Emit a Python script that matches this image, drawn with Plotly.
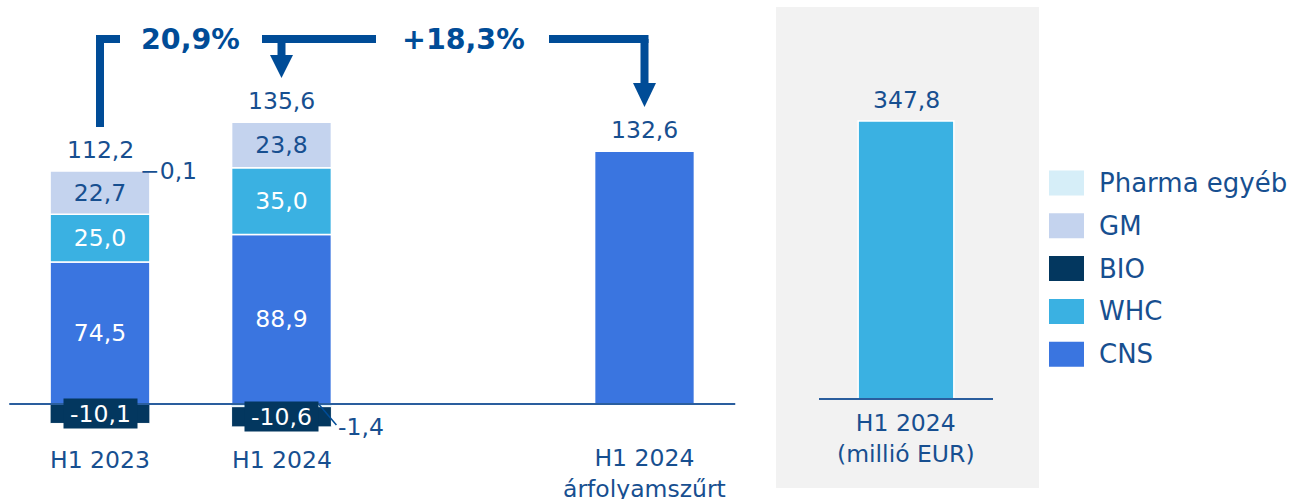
import plotly.graph_objects as go

# ---- data -------------------------------------------------------------
periods = ["H1 2023", "H1 2024"]
cns = [74.5, 88.9]
whc = [25.0, 35.0]
gm = [22.7, 23.8]
bio = [-10.1, -10.6]
pharma_other = [-0.1, -1.4]
totals = [112.2, 135.6]

adjusted_label = "H1 2024<br>árfolyamszűrt"
adjusted_total = 132.6

eur_label = "H1 2024<br>(millió EUR)"
eur_total = 347.8

growth_labels = ["20,9%", "+18,3%"]

series_names = ["Pharma egyéb", "GM", "BIO", "WHC", "CNS"]

# ---- style ------------------------------------------------------------
W, H = 1292, 499
FONT = "DejaVu Sans"
TXT = "#174f90"
ARROW = "#004c97"
AXIS = "#2a5e9e"
COLORS = {
    "Pharma egyéb": "#d6eef8",
    "GM": "#c4d3ee",
    "BIO": "#03375f",
    "WHC": "#3ab1e2",
    "CNS": "#3a75e0",
}
FS = 23.5

pos = [0, 1, 3]          # bar slots on the left axis
BAR_W = 0.55
UNIT_PX = 181.5          # pixels per slot on the left axis
Y_PX = 1.907             # pixels per million on the left axis
Y2_PX = 0.7993           # pixels per million on the right axis
ZERO_PX, ZERO2_PX = 404, 399
X1_DOM = [(100 - UNIT_PX / 2) / W, (644.5 + UNIT_PX / 2) / W]
X2_DOM = [819 / W, 993 / W]


def fmt(v):
    return f"{v:.1f}".replace(".", ",")


def px(p):
    return p / W


def py(p):
    return 1 - p / H


def dx(p):
    return p / UNIT_PX


fig = go.Figure()

# stacked segments (relative mode stacks negatives in trace order)
seg = [("CNS", cns, "white"), ("WHC", whc, "white"), ("GM", gm, TXT)]
for name, vals, tc in seg:
    fig.add_trace(go.Bar(
        x=pos[:2], y=vals, name=name, width=BAR_W,
        marker=dict(color=COLORS[name], line=dict(color="white", width=1.5)),
        text=[fmt(v) for v in vals], textposition="inside",
        insidetextanchor="middle", textangle=0,
        textfont=dict(family=FONT, size=FS, color=tc),
        showlegend=False, hoverinfo="skip",
    ))
fig.add_trace(go.Bar(
    x=pos[:2], y=pharma_other, name="Pharma egyéb", width=BAR_W,
    marker=dict(color=COLORS["Pharma egyéb"], line=dict(width=0)),
    showlegend=False, hoverinfo="skip",
))
fig.add_trace(go.Bar(
    x=pos[:2], y=bio, name="BIO", width=BAR_W,
    marker=dict(color=COLORS["BIO"], line=dict(color="white", width=1)),
    showlegend=False, hoverinfo="skip",
))
fig.add_trace(go.Bar(
    x=[pos[2]], y=[adjusted_total], width=BAR_W,
    marker=dict(color=COLORS["CNS"], line=dict(color="white", width=1.5)),
    showlegend=False, hoverinfo="skip",
))
fig.add_trace(go.Bar(
    x=[0], y=[eur_total], width=BAR_W, xaxis="x2", yaxis="y2",
    marker=dict(color=COLORS["WHC"], line=dict(color="white", width=1.5)),
    showlegend=False, hoverinfo="skip",
))

ann = []
shapes = []

# baselines drawn over the bars
shapes.append(dict(type="line", xref="paper", yref="y", x0=X1_DOM[0],
                   x1=X1_DOM[1], y0=0, y1=0, layer="above",
                   line=dict(color=AXIS, width=2)))
shapes.append(dict(type="line", xref="paper", yref="y2", x0=X2_DOM[0],
                   x1=X2_DOM[1], y0=0, y1=0, layer="above",
                   line=dict(color=AXIS, width=2)))

# total labels above stacks
stack_tops = [c + w + g for c, w, g in zip(cns, whc, gm)]
for x, top, t in zip(pos[:2], stack_tops, totals):
    ann.append(dict(x=x, y=top, xref="x", yref="y", text=fmt(t),
                    yanchor="bottom", yshift=5, showarrow=False,
                    font=dict(family=FONT, size=FS, color=TXT)))
ann.append(dict(x=pos[2], y=adjusted_total, xref="x", yref="y",
                text=fmt(adjusted_total), yanchor="bottom", yshift=5,
                showarrow=False, font=dict(family=FONT, size=FS, color=TXT)))
ann.append(dict(x=0, y=eur_total, xref="x2", yref="y2", text=fmt(eur_total),
                yanchor="bottom", yshift=5, showarrow=False,
                font=dict(family=FONT, size=FS, color=TXT)))

# BIO labels on dark boxes
for x, b, p in zip(pos[:2], bio, pharma_other):
    ann.append(dict(x=x, y=p + b / 2, xref="x", yref="y", text=fmt(b),
                    showarrow=False, bgcolor=COLORS["BIO"], width=73,
                    height=29, borderpad=0,
                    font=dict(family=FONT, size=FS, color="white")))

# small "Pharma egyéb" values
ann.append(dict(x=pos[0] + BAR_W / 2 - dx(12), y=stack_tops[0], xref="x",
                yref="y", text="−" + fmt(abs(pharma_other[0])),
                xanchor="left", yanchor="middle", showarrow=False,
                font=dict(family=FONT, size=FS, color=TXT)))
ann.append(dict(x=pos[1] + BAR_W / 2 + dx(5), y=pharma_other[1] + bio[1],
                xref="x", yref="y", text=fmt(pharma_other[1]),
                xanchor="left", yanchor="middle", showarrow=False,
                font=dict(family=FONT, size=FS, color=TXT)))
shapes.append(dict(type="line", xref="x", yref="y",
                   x0=pos[1] + BAR_W / 2 - dx(12), y0=-0.5,
                   x1=pos[1] + BAR_W / 2 + dx(5), y1=pharma_other[1] + bio[1] + 1,
                   line=dict(color=ARROW, width=1.5)))

# category labels
for x, lab in zip(pos, periods + [adjusted_label]):
    ann.append(dict(x=x, y=py(473 if "<br>" in lab else 460), xref="x",
                    yref="paper", text=lab, showarrow=False,
                    yanchor="middle",
                    font=dict(family=FONT, size=FS, color=TXT)))
ann.append(dict(x=0, y=py(438), xref="x2", yref="paper", text=eur_label,
                showarrow=False, yanchor="middle",
                font=dict(family=FONT, size=FS, color=TXT)))

# growth brackets and arrows
LW = 8
ytop = py(39)


def seg_line(x0, y0, x1, y1):
    shapes.append(dict(type="line", xref="x", yref="paper", x0=x0, y0=y0,
                       x1=x1, y1=y1, line=dict(color=ARROW, width=LW)))


def head(x, y_base, y_tip):
    h = dx(11.5)
    shapes.append(dict(type="path", xref="x", yref="paper",
                       path=f"M {x - h} {py(y_base)} L {x + h} {py(y_base)} "
                            f"L {x} {py(y_tip)} Z",
                       fillcolor=ARROW, line=dict(width=0)))


seg_line(pos[0], py(127), pos[0], py(35))
seg_line(pos[0] - dx(4), ytop, pos[0] + dx(20), ytop)
seg_line(pos[1] - dx(19.5), ytop, pos[1] + dx(94.5), ytop)
seg_line(pos[1], ytop, pos[1], py(58))
head(pos[1], 55, 78)
seg_line(pos[2] - dx(95.5), ytop, pos[2] + dx(4), ytop)
seg_line(pos[2], ytop, pos[2], py(86))
head(pos[2], 83, 107)

for (a, b), lab in zip([(pos[0], pos[1]), (pos[1], pos[2])], growth_labels):
    ann.append(dict(x=(a + b) / 2, y=py(40), xref="x", yref="paper",
                    text=f"<b>{lab}</b>", showarrow=False, yanchor="middle",
                    font=dict(family=FONT, size=28.5, color=ARROW)))

# grey panel behind the EUR bar
shapes.append(dict(type="rect", xref="paper", yref="paper", x0=px(776),
                   x1=px(1039), y0=py(488), y1=py(7), fillcolor="#f2f2f2",
                   line=dict(width=0), layer="below"))

# legend
for i, name in enumerate(series_names):
    cy = 183 + i * 42.8
    shapes.append(dict(type="rect", xref="paper", yref="paper", x0=px(1049),
                       x1=px(1084), y0=py(cy + 12.5), y1=py(cy - 12.5),
                       fillcolor=COLORS[name], line=dict(width=0)))
    ann.append(dict(x=px(1097), y=py(cy), xref="paper", yref="paper",
                    text=name, xanchor="left", yanchor="middle",
                    showarrow=False,
                    font=dict(family=FONT, size=26, color=TXT)))

left_range = [-(H - ZERO_PX) / Y_PX, ZERO_PX / Y_PX]
right_range = [-(H - ZERO2_PX) / Y2_PX, ZERO2_PX / Y2_PX]

fig.update_layout(
    width=W, height=H, margin=dict(l=0, r=0, t=0, b=0),
    paper_bgcolor="white", plot_bgcolor="rgba(0,0,0,0)",
    barmode="relative", showlegend=False,
    font=dict(family=FONT, color=TXT),
    xaxis=dict(domain=X1_DOM, range=[-0.5, 3.5], showgrid=False,
               zeroline=False, showticklabels=False, fixedrange=True),
    yaxis=dict(domain=[0, 1], range=left_range, showgrid=False,
               zeroline=False, showticklabels=False, fixedrange=True),
    xaxis2=dict(domain=X2_DOM, range=[-0.5, 0.5], anchor="y2",
                showgrid=False, zeroline=False, showticklabels=False,
                fixedrange=True),
    yaxis2=dict(domain=[0, 1], range=right_range, anchor="x2",
                showgrid=False, zeroline=False, showticklabels=False,
                fixedrange=True),
    annotations=ann, shapes=shapes,
)

fig.write_html("out.html")
